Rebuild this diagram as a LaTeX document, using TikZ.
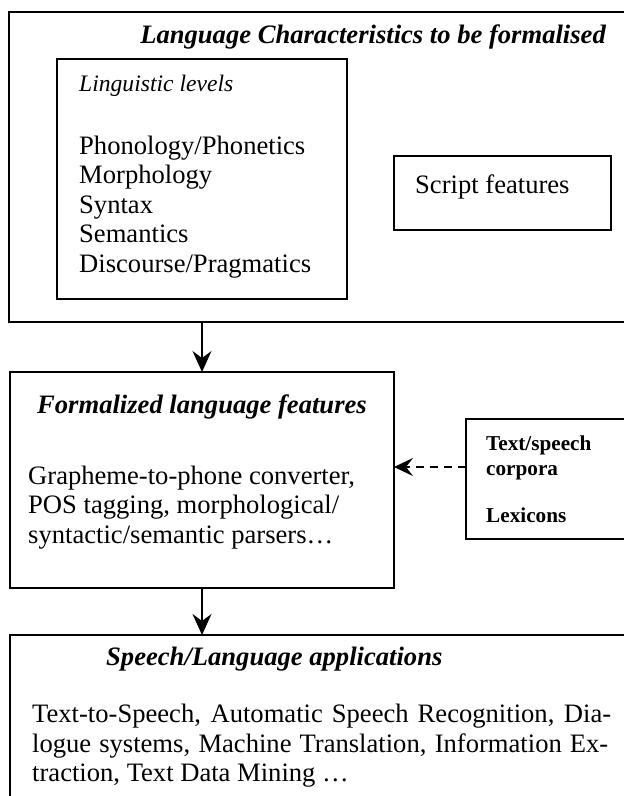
\documentclass[tikz,border=0pt]{standalone}
\usepackage{fontspec}
\setmainfont{Liberation Serif}
\usetikzlibrary{arrows.meta}
\begin{document}
\begin{tikzpicture}[x=1pt,y=-1pt,
  box/.style={draw,line width=1.8pt,rectangle,inner sep=0pt,outer sep=0pt,anchor=north west},
  txt/.style={anchor=base west,inner sep=0pt},
  body/.style={txt,font=\fontsize{26.6}{30}\selectfont},
  ttl/.style={inner sep=0pt,font=\fontsize{26.6}{30}\selectfont\bfseries\itshape},
  subttl/.style={txt,font=\fontsize{23.6}{27}\selectfont\itshape},
  small/.style={txt,font=\fontsize{21.2}{24}\selectfont\bfseries},
  arr/.style={line width=1.8pt,-{Stealth[length=21pt,width=19pt,inset=7pt]}},
  darr/.style={line width=1.5pt,dash pattern=on 8pt off 6pt,-{Stealth[length=19pt,width=18pt,inset=7pt]}}
  ]
\useasboundingbox (0,0) rectangle (624,796);
\fill[white] (0,0) rectangle (624,796);
\clip (0,0) rectangle (624,796);

% boxes
\node[box,minimum width=640pt,minimum height=310pt] (top) at (9,12) {};
\node[box,minimum width=290pt,minimum height=240pt] (ling) at (57,59) {};
\node[box,minimum width=217pt,minimum height=74pt] (script) at (394,156) {};
\node[box,minimum width=384pt,minimum height=216pt] (form) at (10,372) {};
\node[box,minimum width=200pt,minimum height=120pt] (corp) at (466,419) {};
\node[box,minimum width=640pt,minimum height=200pt] (apps) at (10,635) {};

% texts
\node[ttl,anchor=base east] (t1) at (606,43) {Language Characteristics to be formalised};
\node[subttl] (ll) at (79,91) {Linguistic levels};
\node[body] (l1) at (79,154) {Phonology/Phonetics};
\node[body] (l2) at (79,183.5) {Morphology};
\node[body] (l3) at (79,213) {Syntax};
\node[body] (l4) at (79,242.5) {Semantics};
\node[body] (l5) at (79,272) {Discourse/Pragmatics};
\node[body] (sf) at (415,193) {Script features};

\node[ttl,anchor=base west] (t2) at (37,413) {Formalized language features};
\node[body] (f1) at (28,484) {Grapheme-to-phone converter,};
\node[body] (f2) at (28,513.5) {POS tagging, morphological/};
\node[body] (f3) at (28,543) {syntactic/semantic parsers…};

\node[small] (c1) at (486,450) {Text/speech};
\node[small] (c2) at (486,475) {corpora};
\node[small] (c3) at (486,522) {Lexicons};

\node[ttl,anchor=base west] (t3) at (106,665) {Speech/Language applications};
\node[body] (a1) at (32,722.5) {\makebox[579pt][s]{Text-to-Speech, Automatic Speech Recognition, Dia-}};
\node[body] (a2) at (32,752) {\makebox[576pt][s]{logue systems, Machine Translation, Information Ex-}};
\node[body] (a3) at (32,781.5) {traction, Text Data Mining …};

% connectors
\coordinate (ax) at (202,0);
\coordinate (dy) at (0,467);
\draw[arr] (ax |- top.south) -- (ax |- form.north);
\draw[arr] (ax |- form.south) -- (ax |- apps.north);
\draw[darr] (corp.west |- dy) -- (form.east |- dy);
\end{tikzpicture}
\end{document}
